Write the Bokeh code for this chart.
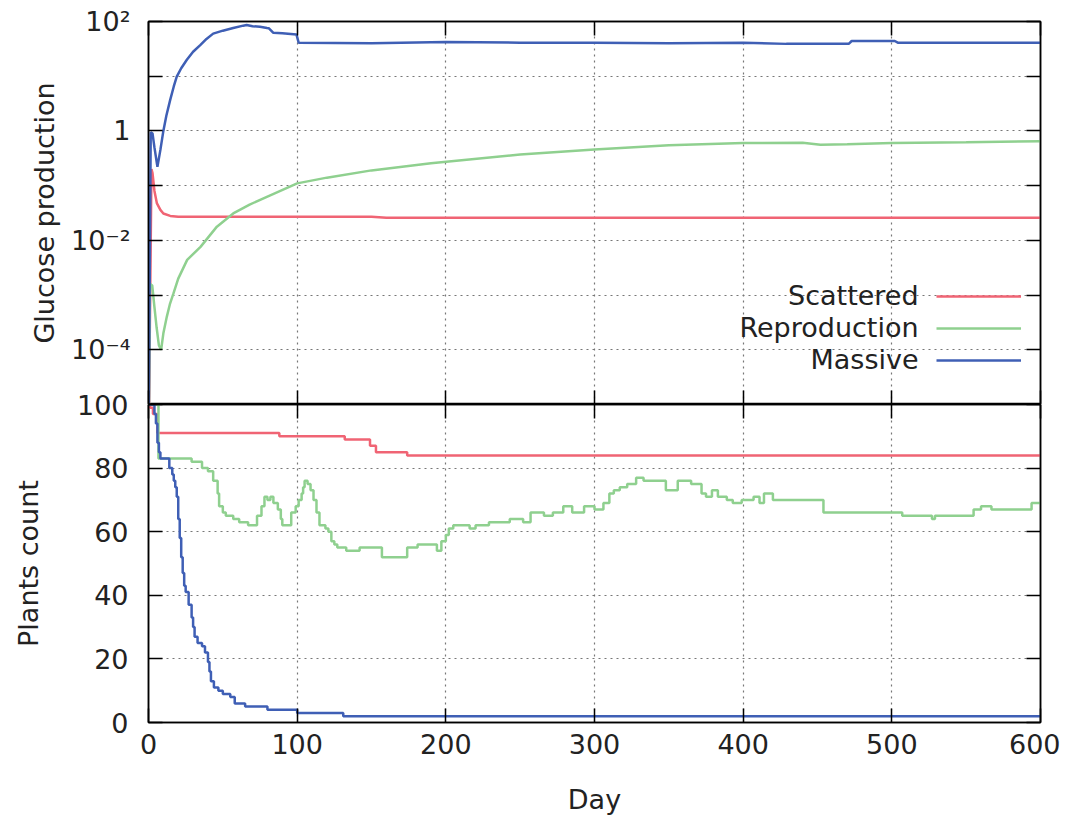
from bokeh.plotting import figure
from bokeh.layouts import column
from bokeh.models import (FixedTicker, CustomJSTickFormatter, LogAxis, LinearAxis,
                          Legend, LegendItem, Label, Range1d)
from bokeh.embed import file_html
from bokeh.resources import INLINE

FONT = "DejaVu Sans"
TXT = "#222222"
FS = "27px"

# ---------------- data ----------------
series_names = ["Scattered", "Reproduction", "Massive"]
series_colors = ["#f06474", "#8fd08f", "#3f5fb5"]

x_ticks = [0, 100, 200, 300, 400, 500, 600]
glucose_ticks = [1e-5, 1e-4, 1e-3, 1e-2, 1e-1, 1, 10, 100]
count_ticks = [0, 20, 40, 60, 80, 100]

# Glucose production (log scale)
gl_scattered_day = [0, 2, 2.7, 4, 5.6, 8, 10, 14.6, 20, 100, 150, 160, 300, 600]
gl_scattered_val = [1e-6, 0.2, 0.17, 0.08, 0.048, 0.036, 0.031, 0.028, 0.027, 0.027,
                    0.027, 0.026, 0.026, 0.026]

gl_repro_day = [0, 1, 2.5, 4, 5.5, 7, 8.5, 10, 12.3, 14.5, 16.8, 20, 26, 35, 46, 57, 68,
                80, 100, 120, 150, 190, 250, 300, 350, 400, 440, 452, 470, 500, 550, 600]
gl_repro_val = [1e-6, 1.6e-3, 1.5e-3, 6e-4, 2.5e-4, 1.2e-4, 1e-4, 2e-4, 4e-4, 7e-4, 1.07e-3,
                2e-3, 4.4e-3, 7.6e-3, 0.0178, 0.031, 0.045, 0.063, 0.11, 0.14, 0.19, 0.257,
                0.37, 0.46, 0.55, 0.6, 0.61, 0.56, 0.57, 0.6, 0.62, 0.65]

gl_massive_day = [0, 1.5, 2.7, 4, 6, 8, 10, 12, 14.6, 17, 19, 22, 25.8, 30, 34.8, 39, 43.5,
                  50, 57, 63.7, 66, 70, 75, 79.7, 81, 84, 90, 99.5, 101, 150, 200, 250,
                  300, 350, 400, 429, 471, 473, 502, 504, 600]
gl_massive_val = [1e-6, 0.95, 0.9, 0.5, 0.22, 0.45, 1.0, 1.9, 3.7, 6.5, 9.8, 14, 20, 28, 37,
                  48, 60, 68, 76, 84, 86, 82, 80, 76, 75, 62, 61, 58, 41, 40, 42, 41, 41,
                  40, 41, 39, 39, 44, 44, 41, 41]

# Plants count (step)
pc_scattered_day = [0, 1, 3, 6, 88, 132, 149, 153, 174, 600]
pc_scattered_val = [100, 99, 97, 91, 90, 89, 87, 85, 84, 84]

pc_repro_day = [0, 6.7, 29, 36, 40, 43.5, 46.5, 47.5, 50, 52, 57, 61, 67, 73, 76, 78, 80,
                82, 84, 87, 89, 90, 95, 96, 99, 101, 103, 104, 105, 107, 109, 111, 113,
                115, 119, 121, 123, 125, 127, 133, 142, 152, 157, 173, 174, 181, 194, 197,
                200, 202, 205, 211, 216, 220, 229, 243, 252, 257, 266, 272, 279, 285, 293,
                300, 306, 310, 313, 317, 322, 328, 333, 345, 348, 353, 356, 365, 372, 375,
                379, 383, 389, 393, 399, 407, 411, 414, 420, 451, 454, 506, 507, 526, 527,
                529, 551, 555, 560, 567, 593, 594, 600]
pc_repro_val = [100, 83, 82, 80, 79, 76, 72, 68, 66, 65, 64, 63, 62, 65, 68, 71, 70,
                71, 69, 67, 64, 62, 62, 66, 68, 70, 72, 74, 76, 75, 73, 70, 66,
                62, 61, 60, 57, 56, 55, 54, 55, 55, 52, 52, 55, 56, 54, 57,
                59, 61, 62, 62, 61, 62, 63, 64, 63, 66, 65, 66, 68, 66, 68,
                67, 69, 72, 73, 74, 75, 77, 76, 76, 73, 73, 76, 75, 72, 71,
                73, 71, 70, 69, 70, 71, 69, 72, 70, 70, 66, 66, 65, 65, 64,
                65, 65, 67, 68, 67, 67, 69, 69]

pc_massive_day = [0, 4, 5, 6, 7, 8, 14, 16, 17, 18, 19, 20, 21, 22, 23, 24, 25, 27, 29, 30,
                  31, 33, 36, 38, 40, 41, 42, 44, 47, 50, 55, 58, 65, 80, 100, 131, 600]
pc_massive_val = [100, 97, 94, 88, 85, 83, 80, 78, 76, 74, 71, 64, 58, 52, 47, 43, 41, 37,
                  33, 30, 27, 25, 24, 22, 19, 16, 13, 11, 10, 9, 8, 6, 5, 4, 3, 2, 2]

# ---------------- styling helpers ----------------
LOG_FMT = CustomJSTickFormatter(code="""
const e = Math.round(Math.log10(tick));
if (e % 2 !== 0) return "";
if (e === 0) return "1";
const m = {"-":"\\u207B","0":"\\u2070","1":"\\u00B9","2":"\\u00B2","3":"\\u00B3","4":"\\u2074","5":"\\u2075"};
return "10" + String(e).split("").map(c => m[c]).join("");
""")


def blank_fmt():
    return CustomJSTickFormatter(code="return '';")


def style_axis(ax, labels=True):
    ax.axis_line_color = "black"
    ax.axis_line_width = 1.5
    ax.major_tick_in = 14
    ax.major_tick_out = 0
    ax.major_tick_line_color = "black"
    ax.major_tick_line_width = 1.5
    ax.minor_tick_line_color = None
    ax.major_label_text_font = FONT
    ax.major_label_text_font_size = FS
    ax.major_label_text_color = TXT
    ax.axis_label_text_font = FONT
    ax.axis_label_text_font_size = FS
    ax.axis_label_text_font_style = "normal"
    ax.axis_label_text_color = TXT
    if not labels:
        ax.formatter = blank_fmt()
        ax.major_label_standoff = 0
        ax.major_label_text_font_size = "1px"


def style_grid(g):
    g.grid_line_color = "#777777"
    g.grid_line_dash = "2 4"
    g.grid_line_width = 1.2


xr = Range1d(0, 600)

# ---------------- top panel ----------------
p1 = figure(width=1060, height=404, x_range=xr, y_range=Range1d(1e-5, 1e2),
            y_axis_type="log", output_backend="svg", toolbar_location=None,
            min_border_left=148, min_border_right=20, min_border_top=21,
            min_border_bottom=0)
p1.outline_line_color = "black"
p1.outline_line_width = 1.5

p1.xaxis.ticker = FixedTicker(ticks=x_ticks)
style_axis(p1.xaxis[0], labels=False)
p1.yaxis.ticker = FixedTicker(ticks=glucose_ticks)
p1.yaxis.formatter = LOG_FMT
style_axis(p1.yaxis[0])
p1.yaxis.major_label_standoff = 18
p1.yaxis.axis_label = "Glucose production"
p1.yaxis.axis_label_standoff = 8

ax_top = LinearAxis(ticker=FixedTicker(ticks=x_ticks))
style_axis(ax_top, labels=False)
p1.add_layout(ax_top, "above")
ax_r1 = LogAxis(ticker=FixedTicker(ticks=glucose_ticks))
style_axis(ax_r1, labels=False)
p1.add_layout(ax_r1, "right")

p1.xgrid.ticker = FixedTicker(ticks=x_ticks)
p1.ygrid.ticker = FixedTicker(ticks=glucose_ticks)
style_grid(p1.xgrid[0])
style_grid(p1.ygrid[0])

r_s = p1.line(gl_scattered_day, gl_scattered_val, line_color=series_colors[0], line_width=2.5)
r_r = p1.line(gl_repro_day, gl_repro_val, line_color=series_colors[1], line_width=2.5)
r_m = p1.line(gl_massive_day, gl_massive_val, line_color=series_colors[2], line_width=2.5)

legend = Legend(items=[LegendItem(label="", renderers=[r]) for r in (r_s, r_r, r_m)],
                location=(788, 28), orientation="vertical", padding=0, margin=0,
                spacing=0, glyph_width=85, glyph_height=32, label_height=32,
                label_width=0, label_standoff=0, border_line_color=None,
                background_fill_alpha=0, label_text_font_size="1px")
p1.add_layout(legend, "center")

legend_y = [1e-3, 10 ** -3.586, 10 ** -4.172]
for name, yv in zip(series_names, legend_y):
    p1.add_layout(Label(x=518, y=yv, text=name, text_align="right", text_baseline="middle",
                        text_font=FONT, text_font_size=FS, text_color=TXT))

# ---------------- bottom panel ----------------
p2 = figure(width=1060, height=426, x_range=xr, y_range=Range1d(0, 100),
            output_backend="svg", toolbar_location=None,
            min_border_left=148, min_border_right=20, min_border_top=13,
            min_border_bottom=95, margin=(-13, 0, 0, 0))
p2.border_fill_alpha = 0
p2.outline_line_color = "black"
p2.outline_line_width = 1.5

p2.xaxis.ticker = FixedTicker(ticks=x_ticks)
style_axis(p2.xaxis[0])
p2.xaxis.major_label_standoff = 11
p2.xaxis.axis_label = "Day"
p2.xaxis.axis_label_standoff = 27
p2.yaxis.ticker = FixedTicker(ticks=count_ticks)
style_axis(p2.yaxis[0])
p2.yaxis.major_label_standoff = 20
p2.yaxis.axis_label = "Plants count"
p2.yaxis.axis_label_standoff = 30

ax_top2 = LinearAxis(ticker=FixedTicker(ticks=x_ticks))
style_axis(ax_top2, labels=False)
p2.add_layout(ax_top2, "above")
ax_r2 = LinearAxis(ticker=FixedTicker(ticks=count_ticks))
style_axis(ax_r2, labels=False)
p2.add_layout(ax_r2, "right")

p2.xgrid.ticker = FixedTicker(ticks=x_ticks)
p2.ygrid.ticker = FixedTicker(ticks=count_ticks)
style_grid(p2.xgrid[0])
style_grid(p2.ygrid[0])

p2.step(pc_scattered_day, pc_scattered_val, mode="after", line_color=series_colors[0], line_width=2.5)
p2.step(pc_repro_day, pc_repro_val, mode="after", line_color=series_colors[1], line_width=2.5)
p2.step(pc_massive_day, pc_massive_val, mode="after", line_color=series_colors[2], line_width=2.5)

layout = column(p1, p2, spacing=0)
open("out.html", "w").write(file_html(layout, INLINE))
